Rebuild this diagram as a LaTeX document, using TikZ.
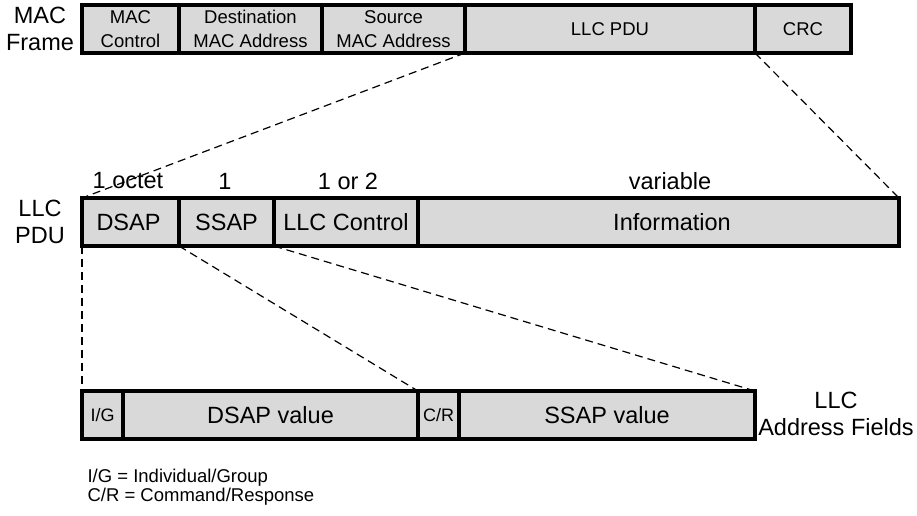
\documentclass[tikz,border=0pt]{standalone}
\usepackage{fontspec}
\setmainfont{Liberation Sans}
\usepackage{tikz}
\usetikzlibrary{positioning}
\definecolor{FieldGray}{RGB}{217, 217, 217}
\definecolor{LineBlack}{RGB}{0, 0, 0}

\begin{document}
\begin{tikzpicture}[x=1pt, y=-1pt,
    field/.style={draw=LineBlack, line width=3.2pt, fill=FieldGray, inner sep=0pt,
      outer sep=0pt, minimum height=48pt, align=center},
    smallfont/.style={font=\fontsize{18.5}{23.5}\selectfont},
    bigfont/.style={font=\fontsize{23.5}{27}\selectfont},
    guide/.style={line width=1.2pt, dash pattern=on 8pt off 5pt}]
    \useasboundingbox (0,0) rectangle (917,515);

    % MAC frame
    \node[bigfont, align=center] (maclabel) at (40, 29) {MAC\\Frame};
    \node[field, smallfont, minimum width=97pt] (maccontrol) at (130.5, 29) {MAC\\Control};
    \node[field, smallfont, minimum width=143pt] (dstmac) at (250.5, 29) {Destination\\MAC Address};
    \node[field, smallfont, minimum width=143pt] (srcmac) at (393.5, 29) {Source\\MAC Address};
    \node[field, smallfont, minimum width=290pt] (llcpdu) at (610, 29) {LLC PDU};
    \node[field, smallfont, minimum width=96pt] (crc) at (803, 29) {CRC};

    % LLC PDU
    \node[bigfont, align=center] (pdulabel) at (40, 222) {LLC\\PDU};
    \node[field, bigfont, minimum width=97pt] (dsap) at (130.5, 222) {DSAP\hspace*{4pt}};
    \node[field, bigfont, minimum width=95pt] (ssap) at (226.5, 222) {SSAP};
    \node[field, bigfont, minimum width=144pt] (ctrl) at (346, 222) {LLC Control};
    \node[field, bigfont, minimum width=481pt] (info) at (658.5, 222) {\hspace*{27pt}Information};

    \node[bigfont] (octdsap) at (128, 181) {1 octet};
    \node[bigfont] (octssap) at (225, 181) {1};
    \node[bigfont] (octctrl) at (348, 181) {1 or 2};
    \node[bigfont] (octinfo) at (670, 181) {variable};

    % LLC address fields
    \node[field, font=\fontsize{18}{20}\selectfont, minimum width=41pt] (ig) at (102.5, 415) {I/G};
    \node[field, bigfont, minimum width=295pt] (dsapval) at (270.5, 415) {DSAP value};
    \node[field, font=\fontsize{18}{20}\selectfont, minimum width=41pt] (cr) at (438.5, 415) {C/R};
    \node[field, bigfont, minimum width=296pt] (ssapval) at (607, 415) {SSAP value};
    \node[bigfont, align=center] (addrlabel) at (836, 414) {LLC\\Address Fields};

    % Legend
    \node[font=\fontsize{18.5}{19.5}\selectfont, align=left, anchor=west] (legend) at (84, 487)
      {I/G = Individual/Group\\C/R = Command/Response};

    % Dashed expansion lines
    \draw[guide] (srcmac.south east) -- (dsap.north west);
    \draw[guide] (llcpdu.south east) -- (info.north east);
    \draw[guide] (dsap.south west) -- (ig.north west);
    \draw[guide] (dsap.south east) -- (cr.north west);
    \draw[guide] (ssap.south east) -- (ssapval.north east);
\end{tikzpicture}
\end{document}
